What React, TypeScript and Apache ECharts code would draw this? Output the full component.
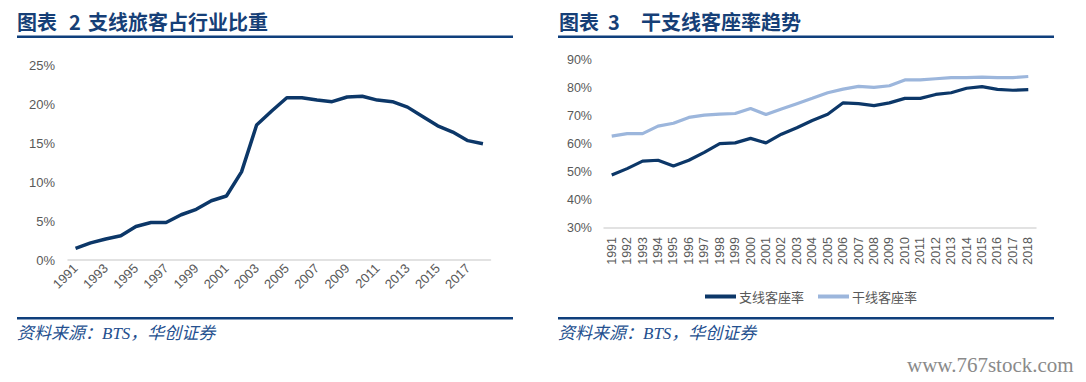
import React, { useEffect, useRef } from "react";
import * as echarts from "echarts";

const years = [
  "1991", "1992", "1993", "1994", "1995", "1996", "1997", "1998", "1999", "2000",
  "2001", "2002", "2003", "2004", "2005", "2006", "2007", "2008", "2009", "2010",
  "2011", "2012", "2013", "2014", "2015", "2016", "2017", "2018",
];

// 支线旅客占行业比重 (%)
const regionalShare = [
  1.5, 2.2, 2.7, 3.1, 4.3, 4.8, 4.8, 5.8, 6.5, 7.6,
  8.2, 11.3, 17.3, 19.1, 20.8, 20.8, 20.5, 20.3, 20.9, 21.0,
  20.5, 20.3, 19.6, 18.4, 17.2, 16.4, 15.3, 14.9,
];

// 支线客座率 (%)
const regionalLoad = [
  48.9, 51.2, 53.9, 54.2, 52.1, 54.2, 57.0, 60.1, 60.4, 62.0,
  60.4, 63.5, 65.8, 68.4, 70.6, 74.7, 74.4, 73.7, 74.7, 76.3,
  76.3, 77.7, 78.3, 79.9, 80.5, 79.5, 79.2, 79.4,
];

// 干线客座率 (%)
const trunkLoad = [
  62.8, 63.7, 63.7, 66.4, 67.4, 69.5, 70.3, 70.7, 70.9, 72.7,
  70.5, 72.5, 74.4, 76.3, 78.3, 79.6, 80.6, 80.2, 80.8, 82.9,
  82.9, 83.3, 83.7, 83.7, 83.9, 83.7, 83.7, 84.1,
];

const titleLabel = "图表";
const leftNo = "2";
const rightNo = "3";
const leftTitle = "支线旅客占行业比重";
const rightTitle = "干支线客座率趋势";
const sourceText = "资料来源：BTS，华创证券";
const watermark = "www.767stock.com";
const legendNames = ["支线客座率", "干线客座率"];

const DARK = "#0c3768";
const LIGHT = "#9cb6dc";
const NAVY = "#0f3f7c";
const GRAY = "#595959";

export default function App() {
  const ref = useRef<HTMLDivElement>(null);

  useEffect(() => {
    if (!ref.current) return;
    const chart = echarts.init(ref.current, null, { renderer: "svg" });
    const titleStyle = {
      fill: "#163f77",
      font: 'bold 20px "Noto Sans CJK SC", sans-serif',
      verticalAlign: "middle" as const,
    };
    const sourceStyle = {
      fill: "#24508f",
      font: 'italic 17px "Liberation Serif", "Noto Sans CJK SC", serif',
    };
    const t = (x: number, text: string) => ({
      type: "text",
      x,
      y: 21,
      style: { text, ...titleStyle },
    });
    chart.setOption({
      animation: false,
      backgroundColor: "#ffffff",
      graphic: [
        t(17, titleLabel),
        t(69, leftNo),
        t(88, leftTitle),
        t(559, titleLabel),
        t(608, rightNo),
        t(641, rightTitle),
        { type: "rect", shape: { x: 17, y: 35.5, width: 496, height: 2.5 }, style: { fill: NAVY } },
        { type: "rect", shape: { x: 558, y: 35.5, width: 496, height: 2.5 }, style: { fill: NAVY } },
        { type: "rect", shape: { x: 17, y: 317, width: 496, height: 2.5 }, style: { fill: NAVY } },
        { type: "rect", shape: { x: 558, y: 317, width: 496, height: 2.5 }, style: { fill: NAVY } },
        { type: "text", left: 17, top: 325, style: { text: sourceText, ...sourceStyle } },
        { type: "text", left: 558, top: 325, style: { text: sourceText, ...sourceStyle } },
        {
          type: "text",
          left: 907,
          top: 354,
          style: { text: watermark, fill: "#8a8a8a", font: '21px "Liberation Serif", serif' },
        },
      ],
      legend: {
        data: legendNames,
        left: 700,
        top: 285,
        icon: "rect",
        itemWidth: 31,
        itemHeight: 4,
        itemGap: 14,
        textStyle: { color: GRAY, fontSize: 13, fontFamily: "Noto Sans CJK SC", padding: [0, 0, 0, -2] },
      },
      grid: [
        { left: 68, right: 595.5, top: 65, bottom: 122, containLabel: false },
        { left: 604, right: 50, top: 60, bottom: 154, containLabel: false },
      ],
      xAxis: [
        {
          type: "category",
          gridIndex: 0,
          data: years,
          boundaryGap: true,
          axisLine: { lineStyle: { color: "#d9d9d9", width: 1.5 } },
          axisTick: { show: false },
          axisLabel: {
            interval: 1,
            rotate: 45,
            color: GRAY,
            fontSize: 13,
            fontFamily: "Liberation Sans",
            margin: 6,
          },
        },
        {
          type: "category",
          gridIndex: 1,
          data: years,
          boundaryGap: true,
          axisLine: { lineStyle: { color: "#d9d9d9", width: 1.5 } },
          axisTick: { show: false },
          axisLabel: {
            interval: 0,
            rotate: 90,
            color: GRAY,
            fontSize: 12.5,
            fontFamily: "Liberation Sans",
            margin: 9,
          },
        },
      ],
      yAxis: [
        {
          type: "value",
          gridIndex: 0,
          min: 0,
          max: 25,
          interval: 5,
          axisLine: { show: false },
          axisTick: { show: false },
          splitLine: { show: false },
          axisLabel: {
            formatter: "{value}%",
            color: GRAY,
            fontSize: 13,
            fontFamily: "Liberation Sans",
            margin: 13,
          },
        },
        {
          type: "value",
          gridIndex: 1,
          min: 30,
          max: 90,
          interval: 10,
          axisLine: { show: false },
          axisTick: { show: false },
          splitLine: { show: false },
          axisLabel: {
            formatter: "{value}%",
            color: GRAY,
            fontSize: 12.5,
            fontFamily: "Liberation Sans",
            margin: 12,
          },
        },
      ],
      series: [
        {
          name: "支线旅客占行业比重",
          type: "line",
          xAxisIndex: 0,
          yAxisIndex: 0,
          data: regionalShare,
          symbol: "none",
          lineStyle: { color: DARK, width: 3.5 },
          itemStyle: { color: DARK },
        },
        {
          name: legendNames[0],
          type: "line",
          xAxisIndex: 1,
          yAxisIndex: 1,
          data: regionalLoad,
          symbol: "none",
          lineStyle: { color: DARK, width: 3.2 },
          itemStyle: { color: DARK },
        },
        {
          name: legendNames[1],
          type: "line",
          xAxisIndex: 1,
          yAxisIndex: 1,
          data: trunkLoad,
          symbol: "none",
          lineStyle: { color: LIGHT, width: 3.2 },
          itemStyle: { color: LIGHT },
        },
      ],
    });
    return () => chart.dispose();
  }, []);

  return (
    <div
      ref={ref}
      style={{ position: "fixed", left: 0, top: 0, width: 1086, height: 382, background: "#fff" }}
    />
  );
}
